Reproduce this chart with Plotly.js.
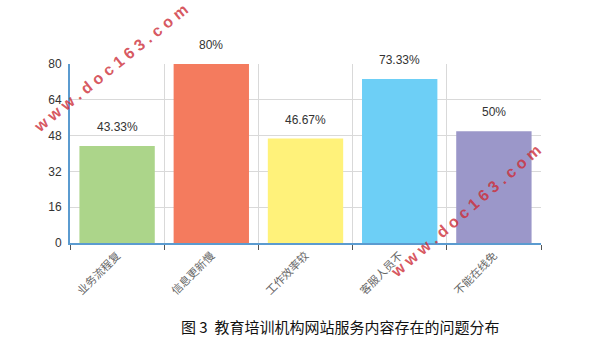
<!DOCTYPE html>
<html>
<head>
<meta charset="utf-8">
<script src="https://cdn.plot.ly/plotly-3.0.1.min.js"></script>
<style>html,body{margin:0;padding:0;background:#fff;}#chart{width:594px;height:351px;}</style>
</head>
<body>
<div id="chart"></div>
<script>
const categories = ["业务流程复", "信息更新慢", "工作效率较", "客服人员不", "不能在线免"];
const values = [43.33, 80, 46.67, 73.33, 50];
const valueLabels = ["43.33%", "80%", "46.67%", "73.33%", "50%"];
const barColors = ["#acd58a", "#f47b5e", "#fff27a", "#6dcff6", "#9b97c9"];
const yTicks = [0, 16, 32, 48, 64, 80];
const caption = "图 3  教育培训机构网站服务内容存在的问题分布";
const watermark = "w w w . d o c 1 6 3 . c o m";

const font = "Liberation Sans, Arial, sans-serif";
const cjk = "Noto Sans CJK SC, sans-serif";

const trace = {
  type: "bar",
  x: categories,
  y: values,
  marker: {color: barColors, line: {width: 0}},
  textposition: "none",
  hoverinfo: "none"
};

const annotations = categories.map((c, i) => ({
  x: c, y: values[i], xref: "x", yref: "y",
  text: valueLabels[i], showarrow: false,
  yanchor: "bottom", yshift: 10,
  font: {family: font, size: 12, color: "#333"}
}));
annotations.push({
  xref: "paper", yref: "paper", x: (340-70)/471, y: (243-326)/179,
  text: caption, showarrow: false, xanchor: "center", yanchor: "middle",
  font: {family: cjk, size: 15, color: "#111"}
});
annotations.push({
  xref: "paper", yref: "paper", x: (110-70)/471, y: (243-68)/179,
  xanchor: "center", yanchor: "middle",
  text: "<b>" + watermark + "</b>", showarrow: false, textangle: -39,
  font: {family: font, size: 16, color: "rgba(205,45,55,0.8)"}
});
annotations.push({
  xref: "paper", yref: "paper", x: (465-70)/471, y: (243-211)/179,
  xanchor: "center", yanchor: "middle",
  text: "<b>" + watermark + "</b>", showarrow: false, textangle: -41,
  font: {family: font, size: 16, color: "rgba(205,45,55,0.8)"}
});

const layout = {
  width: 594, height: 351,
  margin: {l: 70, r: 53, t: 64, b: 108},
  paper_bgcolor: "#fff", plot_bgcolor: "#fff",
  showlegend: false,
  bargap: 0.2,
  xaxis: {
    type: "category",
    tickson: "boundaries",
    ticks: "outside", ticklen: 5, tickcolor: "#555",
    showgrid: true, gridcolor: "#d9d9d9", gridwidth: 1,
    showline: true, linecolor: "#5b9bd0", linewidth: 2,
    tickangle: -45,
    tickfont: {family: cjk, size: 11, color: "#666"},
    fixedrange: true
  },
  yaxis: {
    range: [0, 80],
    tickvals: yTicks,
    ticktext: yTicks.map(String),
    showgrid: true, gridcolor: "#d9d9d9", gridwidth: 1,
    showline: true, linecolor: "#5b9bd0", linewidth: 2,
    zeroline: false,
    ticks: "", ticklabelstandoff: 4,
    tickfont: {family: font, size: 12, color: "#333"},
    fixedrange: true
  },
  annotations: annotations
};

Plotly.newPlot("chart", [trace], layout, {displayModeBar: false, staticPlot: true});
</script>
</body>
</html>
